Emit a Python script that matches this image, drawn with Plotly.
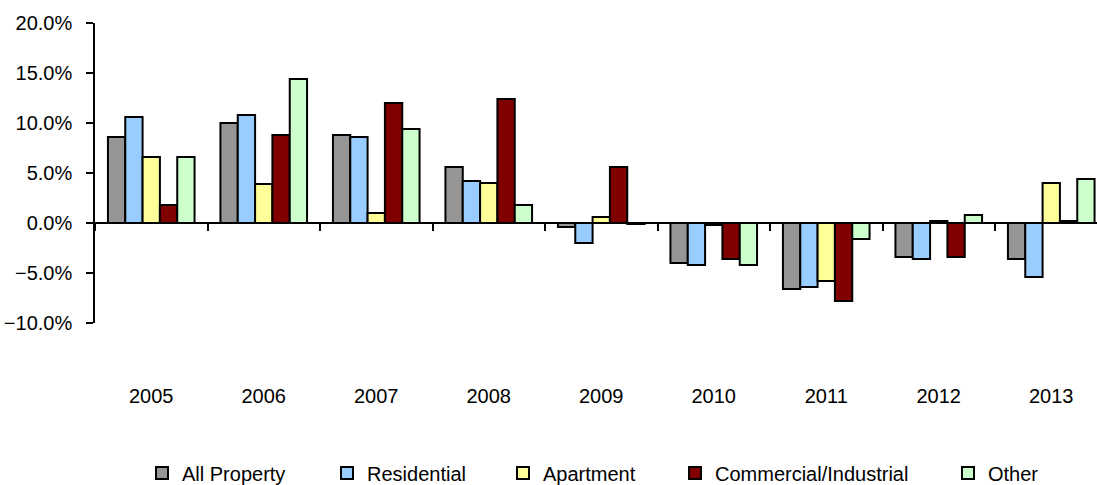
import plotly.graph_objects as go

years = ["2005", "2006", "2007", "2008", "2009", "2010", "2011", "2012", "2013"]
all_property = [8.6, 10.0, 8.8, 5.6, -0.4, -4.0, -6.6, -3.4, -3.6]
residential = [10.6, 10.8, 8.6, 4.2, -2.0, -4.2, -6.4, -3.6, -5.4]
apartment = [6.6, 3.9, 1.0, 4.0, 0.6, -0.2, -5.8, 0.2, 4.0]
commercial = [1.8, 8.8, 12.0, 12.4, 5.6, -3.6, -7.8, -3.4, 0.2]
other = [6.6, 14.4, 9.4, 1.8, -0.1, -4.2, -1.6, 0.8, 4.4]

names = ["All Property", "Residential", "Apartment", "Commercial/Industrial", "Other"]
values = [all_property, residential, apartment, commercial, other]
colors = ["#969696", "#99CCFF", "#FFFF99", "#800000", "#CCFFCC"]
legend_px = [142, 327, 503, 675, 948]  # left edge of each legend entry (pixels)

FONT = "Liberation Sans, Arial, sans-serif"
W, H = 1097, 485
ml, mr, mt, mb = 95, 0, 23, 162
ymin, ymax = -10, 20
xmax = -0.5 + (W - ml - mr) / 112.5
plot_w = W - ml - mr

fig = go.Figure()
legend_layouts = {}
for i, (name, vals, col, lx) in enumerate(zip(names, values, colors, legend_px)):
    key = "legend" if i == 0 else f"legend{i + 1}"
    fig.add_trace(go.Bar(
        x=years, y=vals, name=name, legend=key,
        marker=dict(color=col, line=dict(color="black", width=2)),
    ))
    legend_layouts[key] = dict(orientation="h", x=(lx - ml) / plot_w, xanchor="left",
                               y=-0.5, yanchor="middle", bgcolor="rgba(0,0,0,0)",
                               font=dict(size=20, family=FONT), itemwidth=30)

# invisible helper trace so the year-label axis is drawn
fig.add_trace(go.Scatter(x=list(range(len(years))), y=[None] * len(years),
                         xaxis="x2", yaxis="y", showlegend=False,
                         hoverinfo="skip", mode="markers"))

zero_pos = (0 - ymin) / (ymax - ymin)

fig.update_layout(
    width=W, height=H,
    margin=dict(l=ml, r=mr, t=mt, b=mb, autoexpand=False),
    paper_bgcolor="white", plot_bgcolor="white",
    barmode="group", bargap=0.23, bargroupgap=0,
    font=dict(family=FONT, size=20, color="black"),
    showlegend=True,
    xaxis=dict(type="category", categoryarray=years, range=[-0.5, xmax],
               anchor="free", position=zero_pos,
               showline=True, linecolor="black", linewidth=2,
               tickson="boundaries", ticks="outside", ticklen=7, tickwidth=1.5,
               tickcolor="black", showticklabels=False, showgrid=False, zeroline=False),
    xaxis2=dict(overlaying="x", anchor="y", side="bottom", range=[-0.5, xmax],
                tickmode="array", tickvals=list(range(len(years))), ticktext=years,
                ticks="", showline=False, showgrid=False, zeroline=False,
                ticklabelstandoff=59, tickfont=dict(size=20, family=FONT)),
    yaxis=dict(range=[ymin, ymax], dtick=5, tick0=0, tickformat=".1f", ticksuffix="%",
               showline=True, linecolor="black", linewidth=1.5,
               ticks="outside", ticklen=7, tickwidth=1.5, tickcolor="black",
               ticklabelstandoff=10,
               showgrid=False, zeroline=False, tickfont=dict(size=20, family=FONT)),
    **legend_layouts,
)

fig.write_html("out.html", config={"displayModeBar": False},
               post_script="document.body.style.margin='0px';")
